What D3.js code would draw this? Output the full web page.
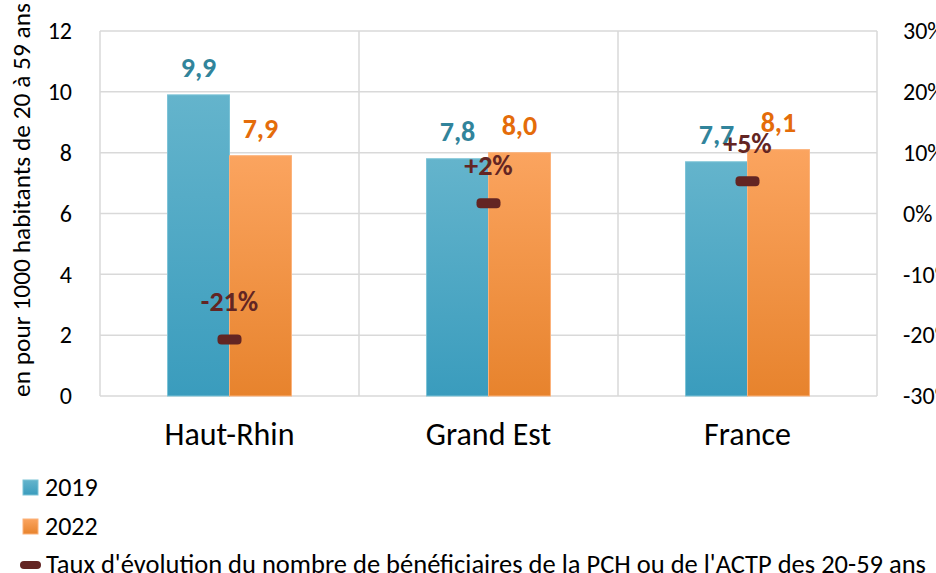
<!DOCTYPE html>
<html>
<head>
<meta charset="utf-8">
<script src="https://d3js.org/d3.v7.min.js"></script>
<style>
  body { margin: 0; background: #fff; }
  svg text { font-family: Carlito, Lato, "Open Sans", sans-serif; }
</style>
</head>
<body>
<svg width="936" height="573"></svg>
<script>
// data
var categories = ["Haut-Rhin", "Grand Est", "France"];
var series = ["2019", "2022"];
var values2019 = [9.9, 7.8, 7.7];
var values2022 = [7.9, 8.0, 8.1];
var evolution = [-0.207, 0.017, 0.053];
var leftTicks = [0, 2, 4, 6, 8, 10, 12];
var rightTicks = [-0.3, -0.2, -0.1, 0, 0.1, 0.2, 0.3];
var evolLabel = "Taux d'évolution du nombre de bénéficiaires de la PCH ou de l'ACTP des 20-59 ans";

var svg = d3.select("svg");
var plotL = 100, plotR = 877, plotT = 31, plotB = 396;

var x = d3.scaleBand().domain(categories).range([plotL, plotR]).padding(0);
var xs = d3.scaleBand().domain(series).range([0, x.bandwidth()]).paddingInner(0).paddingOuter(1.09);
var y = d3.scaleLinear().domain([0, 12]).range([plotB, plotT]);
var y2 = d3.scaleLinear().domain([-0.3, 0.3]).range([plotB, plotT]);

var colors = { "2019": ["#64b4cc", "#3a9cbd"], "2022": ["#fba45f", "#e7832d"] };
var labelColors = { "2019": "#31849b", "2022": "#e46c0a" };
var strokeColors = { "2019": "#7cc3d6", "2022": "#fcb27a" };

var defs = svg.append("defs");
series.forEach(function(s) {
  var g = defs.append("linearGradient").attr("id", "g" + s)
    .attr("x1", 0).attr("y1", 0).attr("x2", 0).attr("y2", 1);
  g.append("stop").attr("offset", "0%").attr("stop-color", colors[s][0]);
  g.append("stop").attr("offset", "100%").attr("stop-color", colors[s][1]);
});

// gridlines
svg.append("g").selectAll("line").data(leftTicks).enter().append("line")
  .attr("x1", plotL).attr("x2", plotR)
  .attr("y1", function(d) { return y(d); }).attr("y2", function(d) { return y(d); })
  .attr("stroke", "#d9d9d9").attr("stroke-width", 1.5);
var bounds = [plotL, x("Grand Est"), x("France"), plotR];
svg.append("g").selectAll("line").data(bounds).enter().append("line")
  .attr("x1", function(d) { return d; }).attr("x2", function(d) { return d; })
  .attr("y1", plotT).attr("y2", plotB)
  .attr("stroke", "#d9d9d9").attr("stroke-width", 1.5);

// left axis
var yAxis = svg.append("g").attr("transform", "translate(" + plotL + ",0)")
  .call(d3.axisLeft(y).tickValues(leftTicks).tickSize(0).tickPadding(28));
yAxis.select(".domain").remove();
yAxis.selectAll("text").attr("font-size", 24).attr("fill", "#000").attr("font-family", null);

// right axis
var fmtPct = function(d) { return Math.round(d * 100) + "%"; };
var y2Axis = svg.append("g").attr("transform", "translate(" + plotR + ",0)")
  .call(d3.axisRight(y2).tickValues(rightTicks).tickSize(0).tickPadding(26).tickFormat(fmtPct));
y2Axis.select(".domain").remove();
y2Axis.selectAll("text").attr("font-size", 24).attr("fill", "#000").attr("font-family", null);

// bottom axis
var xAxis = svg.append("g").attr("transform", "translate(0," + plotB + ")")
  .call(d3.axisBottom(x).tickSize(0).tickPadding(26));
xAxis.select(".domain").remove();
xAxis.selectAll("text").attr("font-size", 32).attr("fill", "#000").attr("font-family", null);

// y title
svg.append("text")
  .attr("transform", "translate(30," + 200 + ") rotate(-90)")
  .attr("text-anchor", "middle")
  .attr("font-size", 25.4)
  .text("en pour 1000 habitants de 20 à 59 ans");

// bars
var rows = categories.map(function(c, i) {
  return { cat: c, vals: [{ s: "2019", v: values2019[i] }, { s: "2022", v: values2022[i] }], evol: evolution[i] };
});
var groups = svg.append("g").selectAll("g").data(rows).enter().append("g")
  .attr("transform", function(d) { return "translate(" + x(d.cat) + ",0)"; });
groups.selectAll("rect").data(function(d) { return d.vals; }).enter().append("rect")
  .attr("x", function(d) { return xs(d.s); })
  .attr("y", function(d) { return y(d.v); })
  .attr("width", xs.bandwidth())
  .attr("height", function(d) { return y(0) - y(d.v); })
  .attr("fill", function(d) { return "url(#g" + d.s + ")"; })
  .attr("stroke", function(d) { return strokeColors[d.s]; })
  .attr("stroke-width", 1);
groups.selectAll("text.val").data(function(d) { return d.vals; }).enter().append("text")
  .attr("class", "val")
  .attr("x", function(d) { return xs(d.s) + xs.bandwidth() / 2; })
  .attr("y", function(d) { return y(d.v) - 18; })
  .attr("text-anchor", "middle")
  .attr("font-size", 28).attr("font-weight", "bold")
  .attr("fill", function(d) { return labelColors[d.s]; })
  .text(function(d) { return d3.format(".1f")(d.v).replace(".", ","); });

// evolution markers
var mw = 24, mh = 10;
groups.append("rect")
  .attr("x", x.bandwidth() / 2 - mw / 2)
  .attr("y", function(d) { return y2(d.evol) - mh / 2; })
  .attr("width", mw).attr("height", mh).attr("rx", 4)
  .attr("fill", "#632523");
groups.append("text")
  .attr("x", x.bandwidth() / 2)
  .attr("y", function(d) { return y2(d.evol) - 28; })
  .attr("text-anchor", "middle")
  .attr("font-size", 28).attr("font-weight", "bold")
  .attr("fill", "#632523")
  .text(function(d) { return (d.evol > 0 ? "+" : "") + Math.round(d.evol * 100) + "%"; });

// legend
var legend = svg.append("g");
var legRows = [
  { s: "2019", label: "2019", yy: 487 },
  { s: "2022", label: "2022", yy: 526 }
];
legRows.forEach(function(r) {
  legend.append("rect").attr("x", 23).attr("y", r.yy - 7).attr("width", 15).attr("height", 15)
    .attr("fill", "url(#g" + r.s + ")").attr("stroke", strokeColors[r.s]);
  legend.append("text").attr("x", 45).attr("y", r.yy + 9).attr("font-size", 26).text(r.label);
});
legend.append("rect").attr("x", 20).attr("y", 561).attr("width", 21).attr("height", 8).attr("rx", 4)
  .attr("fill", "#632523");
legend.append("text").attr("x", 46).attr("y", 573).attr("font-size", 26.5).text(evolLabel);
</script>
</body>
</html>
